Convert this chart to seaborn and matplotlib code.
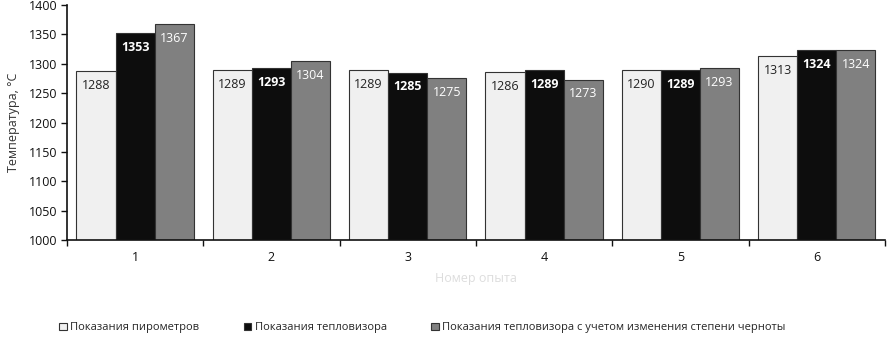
import pandas as pd
import numpy as np
import matplotlib
matplotlib.use("Agg")
import matplotlib.pyplot as plt
import seaborn as sns

# ── Data ────────────────────────────────────────────────
experiments = ["1", "2", "3", "4", "5", "6"]
pyrometer = [1288, 1289, 1289, 1286, 1290, 1313]
thermal = [1353, 1293, 1285, 1289, 1289, 1324]
thermal_corr = [1367, 1304, 1275, 1273, 1293, 1324]
series_names = [
    "Показания пирометров",
    "Показания тепловизора",
    "Показания тепловизора с учетом изменения степени черноты",
]
yticks = [1000, 1050, 1100, 1150, 1200, 1250, 1300, 1350, 1400]

df = pd.DataFrame({
    "exp": experiments * 3,
    "series": np.repeat(series_names, len(experiments)),
    "temp": pyrometer + thermal + thermal_corr,
})

# ── Style ────────────────────────────────────────────────
sns.set_theme(style="white")
plt.rcParams["font.family"] = ["Open Sans", "DejaVu Sans"]

colors = ["#f0f0f0", "#0d0d0d", "#808080"]
label_colors = ["#222222", "white", "white"]

fig = plt.figure(figsize=(8.92, 3.38), dpi=100)
ax = fig.add_axes([0.075, 0.29, 0.917, 0.695])

sns.barplot(data=df, x="exp", y="temp", hue="series", palette=colors,
            hue_order=series_names, order=experiments, width=0.86,
            edgecolor="#333333", linewidth=0.8, ax=ax, legend=True)

for cont, col, vals, wt in zip(ax.containers, label_colors,
                               [pyrometer, thermal, thermal_corr],
                               ["normal", "bold", "normal"]):
    ax.bar_label(cont, labels=[str(v) for v in vals], padding=-15,
                 color=col, fontsize=9, fontweight=wt)

ax.set_ylim(1000, 1400)
ax.set_xlim(-0.5, 5.5)
ax.set_yticks(yticks)
ax.tick_params(axis="y", labelsize=9, length=4, width=1, direction="out",
               left=True, colors="#111111", pad=3)
ax.tick_params(axis="x", labelsize=9, length=0, pad=8, colors="#111111")
ax.set_xticks(np.arange(-0.5, 6, 1), minor=True)
ax.tick_params(axis="x", which="minor", length=4, width=1, bottom=True,
               direction="out", color="#111111")
ax.set_ylabel("Температура, °С", fontsize=9, color="#333333", labelpad=6)
ax.set_xlabel("Номер опыта", fontsize=9, color="#dddddd", labelpad=6)

sns.despine(ax=ax)
for s in ["left", "bottom"]:
    ax.spines[s].set_color("#111111")
    ax.spines[s].set_linewidth(1.2)

handles, labels = ax.get_legend_handles_labels()
ax.legend(handles, labels, loc="lower left", bbox_to_anchor=(-0.022, -0.44),
          ncol=3, frameon=False, fontsize=8, handlelength=0.7,
          handleheight=0.7, handletextpad=0.3, columnspacing=4.0)

plt.savefig("out.png", dpi=100)
